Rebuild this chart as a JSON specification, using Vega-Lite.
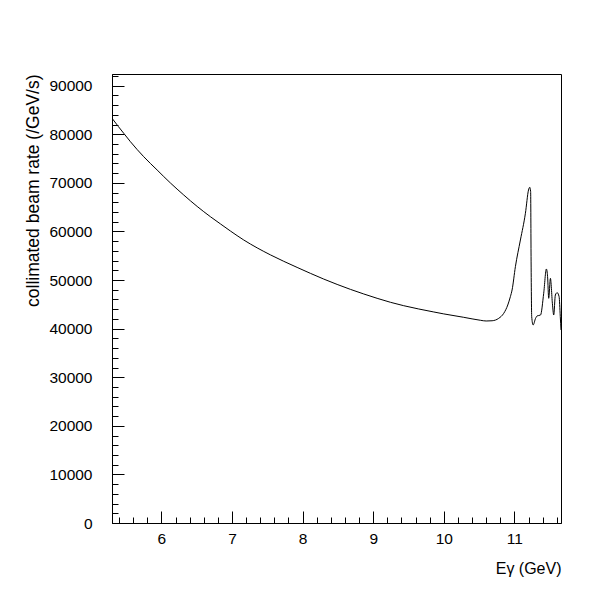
{
  "$schema": "https://vega.github.io/schema/vega-lite/v6.json",
  "width": 449,
  "height": 449,
  "autosize": {"type": "none"},
  "padding": {"left": 112, "top": 74, "right": 39, "bottom": 77},
  "background": "white",
  "config": {
    "view": {"stroke": "black", "strokeWidth": 1},
    "font": "Liberation Sans",
    "axis": {"domainColor": "black", "tickColor": "black", "labelColor": "black", "titleColor": "black", "grid": false, "labelFont": "Liberation Sans", "titleFont": "Liberation Sans", "titleFontWeight": "normal"}
  },
  "data": {
    "values": [
      {"e": 5.306, "rate": 83200},
      {"e": 5.316, "rate": 83000},
      {"e": 5.466, "rate": 80200},
      {"e": 5.561, "rate": 78470},
      {"e": 5.749, "rate": 75390},
      {"e": 5.939, "rate": 72650},
      {"e": 6.127, "rate": 69980},
      {"e": 6.316, "rate": 67500},
      {"e": 6.506, "rate": 65150},
      {"e": 6.694, "rate": 63030},
      {"e": 6.836, "rate": 61550},
      {"e": 6.977, "rate": 60090},
      {"e": 7.166, "rate": 58240},
      {"e": 7.356, "rate": 56620},
      {"e": 7.544, "rate": 55180},
      {"e": 7.733, "rate": 53850},
      {"e": 7.922, "rate": 52600},
      {"e": 8.11, "rate": 51380},
      {"e": 8.299, "rate": 50200},
      {"e": 8.489, "rate": 49100},
      {"e": 8.677, "rate": 48080},
      {"e": 8.866, "rate": 47130},
      {"e": 9.055, "rate": 46240},
      {"e": 9.244, "rate": 45420},
      {"e": 9.432, "rate": 44720},
      {"e": 9.645, "rate": 44040},
      {"e": 9.85, "rate": 43450},
      {"e": 9.999, "rate": 43030},
      {"e": 10.282, "rate": 42330},
      {"e": 10.518, "rate": 41720},
      {"e": 10.60, "rate": 41570},
      {"e": 10.684, "rate": 41620},
      {"e": 10.778, "rate": 42120},
      {"e": 10.849, "rate": 43150},
      {"e": 10.906, "rate": 44860},
      {"e": 10.943, "rate": 46580},
      {"e": 10.967, "rate": 47950},
      {"e": 11.014, "rate": 52750},
      {"e": 11.085, "rate": 58240},
      {"e": 11.156, "rate": 63740},
      {"e": 11.20, "rate": 68530},
      {"e": 11.217, "rate": 69090},
      {"e": 11.23, "rate": 68180},
      {"e": 11.236, "rate": 54800},
      {"e": 11.245, "rate": 42460},
      {"e": 11.265, "rate": 40750},
      {"e": 11.30, "rate": 42120},
      {"e": 11.32, "rate": 42600},
      {"e": 11.37, "rate": 42800},
      {"e": 11.415, "rate": 47270},
      {"e": 11.453, "rate": 52270},
      {"e": 11.47, "rate": 50690},
      {"e": 11.486, "rate": 46240},
      {"e": 11.51, "rate": 50350},
      {"e": 11.538, "rate": 45210},
      {"e": 11.557, "rate": 42800},
      {"e": 11.58, "rate": 46920},
      {"e": 11.605, "rate": 47400},
      {"e": 11.633, "rate": 46580},
      {"e": 11.65, "rate": 42460},
      {"e": 11.66, "rate": 39720}
    ]
  },
  "layer": [
    {
      "mark": {"type": "line", "color": "black", "strokeWidth": 1, "interpolate": "monotone", "clip": true},
      "encoding": {
        "x": {"field": "e", "type": "quantitative", "scale": {"domain": [5.3, 11.66], "nice": false, "zero": false},
          "axis": {"orient": "bottom", "title": "Eγ (GeV)", "titleAnchor": "end", "titleFontSize": 16, "titlePadding": 14, "values": [6, 7, 8, 9, 10, 11], "format": "d", "labelFontSize": 15.5, "tickSize": -12, "labelPadding": 20, "labelFlush": false}},
        "y": {"field": "rate", "type": "quantitative", "scale": {"domain": [0, 92400], "nice": false},
          "axis": {"orient": "left", "title": "collimated beam rate (/GeV/s)", "titleAnchor": "end", "titleFontSize": 17.5, "titlePadding": 6, "values": [0, 10000, 20000, 30000, 40000, 50000, 60000, 70000, 80000, 90000], "format": "d", "labelFontSize": 15.5, "tickSize": -12, "labelPadding": 32, "labelFlush": false}}
      }
    },
    {
      "mark": {"type": "line", "strokeOpacity": 0, "interpolate": "monotone"},
      "encoding": {
        "x": {"field": "e", "type": "quantitative",
          "axis": {"orient": "bottom", "title": null, "labels": false, "domain": false, "tickSize": -6, "values": [5.4, 5.6, 5.8, 6.2, 6.4, 6.6, 6.8, 7.2, 7.4, 7.6, 7.8, 8.2, 8.4, 8.6, 8.8, 9.2, 9.4, 9.6, 9.8, 10.2, 10.4, 10.6, 10.8, 11.2, 11.4, 11.6]}},
        "y": {"field": "rate", "type": "quantitative",
          "axis": {"orient": "left", "title": null, "labels": false, "domain": false, "tickSize": -6, "values": [2000, 4000, 6000, 8000, 12000, 14000, 16000, 18000, 22000, 24000, 26000, 28000, 32000, 34000, 36000, 38000, 42000, 44000, 46000, 48000, 52000, 54000, 56000, 58000, 62000, 64000, 66000, 68000, 72000, 74000, 76000, 78000, 82000, 84000, 86000, 88000, 92000]}}
      }
    }
  ],
  "resolve": {"axis": {"x": "independent", "y": "independent"}}
}
